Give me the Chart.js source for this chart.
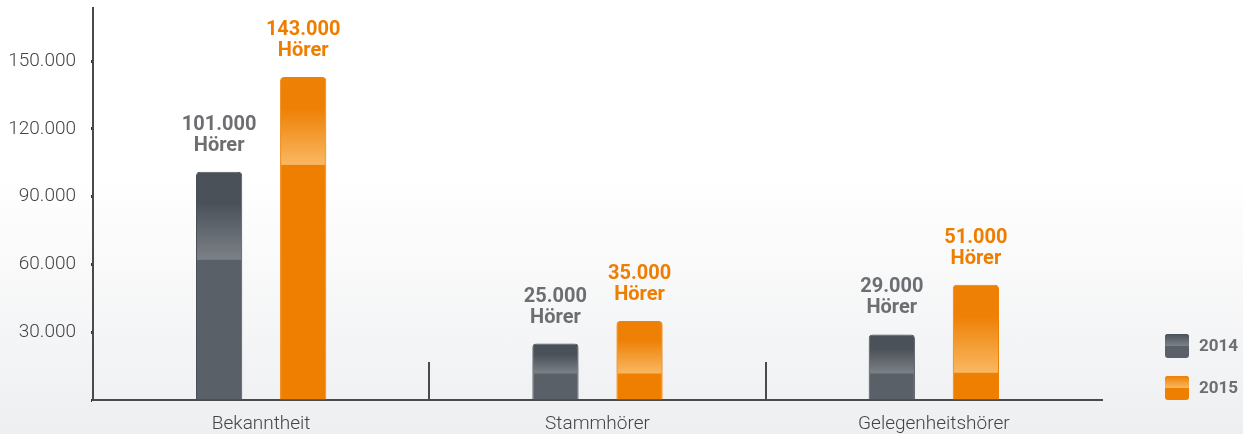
<!DOCTYPE html>
<html>
<head>
<meta charset="utf-8">
<script src="https://cdn.jsdelivr.net/npm/chart.js@4/dist/chart.umd.min.js"></script>
<style>
  html, body { margin: 0; padding: 0; }
  body {
    width: 1243px; height: 434px; overflow: hidden;
    background: linear-gradient(to bottom, #ffffff 0%, #ffffff 40%, #eeeff1 100%);
  }
  #wrap { position: relative; width: 1243px; height: 434px; }
</style>
</head>
<body>
<div id="wrap"><canvas id="c" width="1243" height="434"></canvas></div>
<script>
const categories = ['Bekanntheit', 'Stammhörer', 'Gelegenheitshörer'];
const seriesNames = ['2014', '2015'];
const values2014 = [101000, 25000, 29000];
const values2015 = [143000, 35000, 51000];
const yTickValues = [0, 30000, 60000, 90000, 120000, 150000];
const unitLabel = 'Hörer';
const yMax = 173500;

const palette = {
  '2014': { flat: '#5a6068', top: '#4b5158', light: '#7c8188', border: '#4a4f55', text: '#6d6e71' },
  '2015': { flat: '#ee7f00', top: '#ee8006', light: '#f9b861', border: '#ee8004', text: '#ef7d00' }
};

function fmt(v) { return String(v).replace(/\B(?=(\d{3})+(?!\d))/g, '.'); }

const FONT = 'Roboto, "Open Sans", sans-serif';

const bandPlugin = {
  id: 'band',
  afterDatasetDraw(chart, args) {
    const ctx = chart.ctx;
    const ds = chart.data.datasets[args.index];
    const pal = palette[ds.label];
    const meta = args.meta;
    meta.data.forEach(bar => {
      const p = bar.getProps(['x', 'y', 'base', 'width'], true);
      const left = p.x - p.width / 2 + 1;
      const w = p.width - 2;
      const top = p.y + 1;
      const end = Math.min(p.y + 88, p.base - 26);
      if (end <= top) return;
      ctx.save();
      ctx.beginPath();
      ctx.roundRect(left, top, w, p.base - top, [3, 3, 0, 0]);
      ctx.clip();
      const g = ctx.createLinearGradient(0, top, 0, end);
      g.addColorStop(0, pal.top);
      g.addColorStop(0.35, pal.top);
      g.addColorStop(1, pal.light);
      ctx.fillStyle = g;
      ctx.fillRect(left, top, w, end - top);
      ctx.restore();
    });
  }
};

const labelPlugin = {
  id: 'valueLabels',
  afterDatasetsDraw(chart) {
    const ctx = chart.ctx;
    chart.data.datasets.forEach((ds, i) => {
      const meta = chart.getDatasetMeta(i);
      const pal = palette[ds.label];
      meta.data.forEach((bar, j) => {
        const p = bar.getProps(['x', 'y'], true);
        ctx.save();
        ctx.fillStyle = pal.text;
        ctx.font = 'bold 20px ' + FONT;
        ctx.textAlign = 'center';
        ctx.textBaseline = 'alphabetic';
        ctx.fillText(unitLabel, p.x, p.y - 21);
        ctx.fillText(fmt(ds.data[j]), p.x, p.y - 42);
        ctx.restore();
      });
    });
  }
};

const dividerPlugin = {
  id: 'dividers',
  afterDraw(chart) {
    const ctx = chart.ctx;
    const xs = chart.scales.x;
    const bottom = chart.chartArea.bottom;
    ctx.save();
    ctx.strokeStyle = '#4a4a4c';
    ctx.lineWidth = 2;
    for (let i = 1; i < categories.length; i++) {
      const x = Math.round((xs.getPixelForTick(i - 1) + xs.getPixelForTick(i)) / 2);
      ctx.beginPath();
      ctx.moveTo(x, bottom);
      ctx.lineTo(x, bottom - 38);
      ctx.stroke();
    }
    ctx.restore();
  }
};

const legendPlugin = {
  id: 'customLegend',
  afterDraw(chart) {
    const ctx = chart.ctx;
    const x0 = 1165, size = 24;
    const ys = [334, 376];
    chart.data.datasets.forEach((ds, i) => {
      const pal = palette[ds.label];
      const y0 = ys[i];
      ctx.save();
      ctx.beginPath();
      ctx.roundRect(x0, y0, size, size, 3);
      ctx.fillStyle = pal.flat;
      ctx.fill();
      ctx.clip();
      const g = ctx.createLinearGradient(0, y0, 0, y0 + size * 0.5);
      g.addColorStop(0, pal.top);
      g.addColorStop(1, pal.light);
      ctx.fillStyle = g;
      ctx.fillRect(x0, y0, size, size * 0.5);
      ctx.restore();
      ctx.save();
      ctx.fillStyle = '#6d6e71';
      ctx.font = 'bold 17px ' + FONT;
      ctx.textAlign = 'left';
      ctx.textBaseline = 'middle';
      ctx.fillText(ds.label, 1199, y0 + size / 2 + 1);
      ctx.restore();
    });
  }
};

function makeDataset(name, values) {
  const pal = palette[name];
  return {
    label: name,
    data: values,
    backgroundColor: pal.flat,
    borderColor: pal.border,
    borderWidth: 1,
    borderSkipped: 'bottom',
    borderRadius: { topLeft: 4, topRight: 4, bottomLeft: 0, bottomRight: 0 },
    categoryPercentage: 0.5,
    barPercentage: 0.55
  };
}

new Chart(document.getElementById('c'), {
  type: 'bar',
  data: {
    labels: categories,
    datasets: [makeDataset(seriesNames[0], values2014), makeDataset(seriesNames[1], values2015)]
  },
  options: {
    responsive: false,
    animation: false,
    layout: { padding: { top: 8, right: 141, left: 0, bottom: 0 } },
    plugins: { legend: { display: false }, tooltip: { enabled: false } },
    scales: {
      x: {
        grid: { display: false },
        border: { display: true, color: '#4a4a4c', width: 2 },
        ticks: { color: '#444446', font: { family: FONT, size: 19, weight: '300' }, padding: 5 },
        afterFit(s) { s.height = 34; s.paddingLeft = 0; s.paddingRight = 0; }
      },
      y: {
        min: 0, max: yMax,
        border: { display: true, color: '#4a4a4c', width: 2 },
        grid: { drawOnChartArea: false, drawTicks: true, tickLength: 2, tickWidth: 3, tickColor: '#333' },
        ticks: {
          color: '#444446', font: { family: FONT, size: 19, weight: '300' }, padding: 15,
          callback: v => v === 0 ? '' : fmt(v)
        },
        afterBuildTicks(s) { s.ticks = yTickValues.map(v => ({ value: v })); },
        afterFit(s) { s.width = 93; s.paddingTop = 0; s.paddingBottom = 0; }
      }
    }
  },
  plugins: [bandPlugin, labelPlugin, dividerPlugin, legendPlugin]
});
</script>
</body>
</html>
